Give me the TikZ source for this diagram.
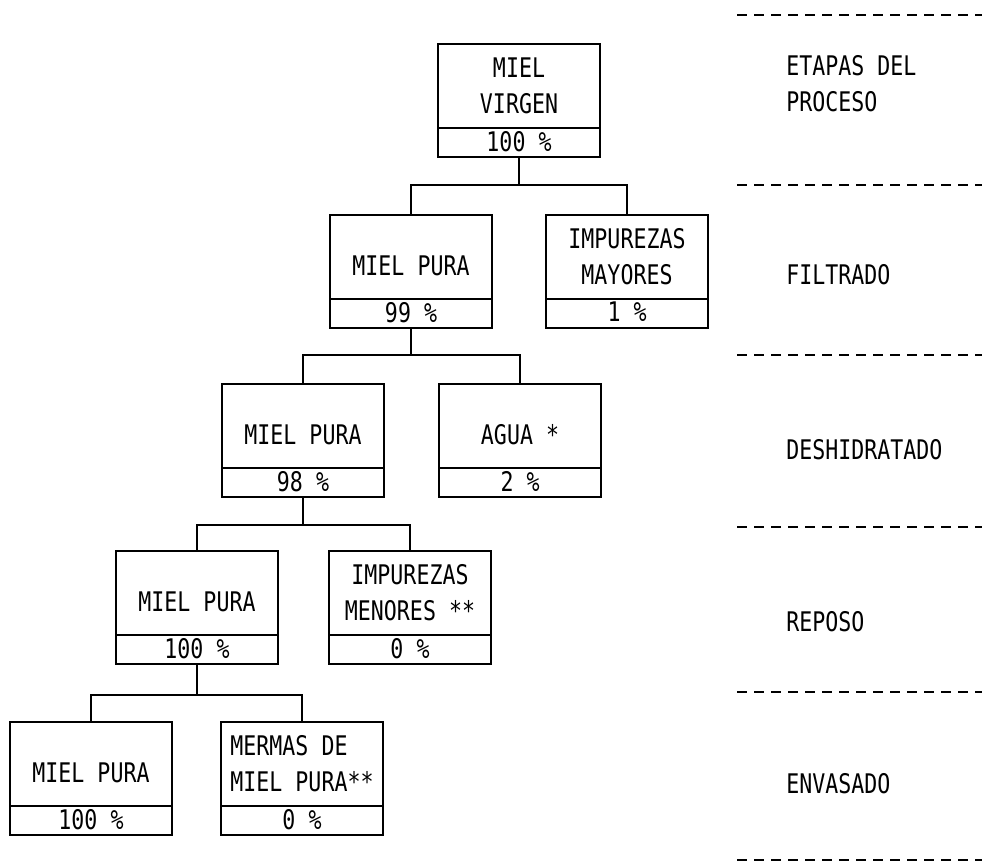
\documentclass[tikz,border=0pt]{standalone}
\usepackage{fontspec}
\newfontfamily\maquina[FakeStretch=0.8]{DejaVu Sans Mono}
\usetikzlibrary{positioning}

\begin{document}
\begin{tikzpicture}[x=1pt,y=-1pt,line width=2pt,
  every node/.style={font=\maquina\fontsize{27}{36}\selectfont},
  etapa/.style={draw,minimum width=162pt,minimum height=84pt,inner sep=0pt,outer sep=0pt,align=center,anchor=north},
  uno/.style={text height=38pt},
  pct/.style={draw,minimum width=162pt,minimum height=29pt,inner sep=0pt,outer sep=0pt,text depth=3pt},
  sep/.style={dash pattern=on 10pt off 7pt,line width=2.4pt}]
\useasboundingbox (0,0) rectangle (982,862);

% arbol de balance
\node[etapa] (virgen) at (519,44) {MIEL\\VIRGEN};
\node[pct,below=0pt of virgen] (virgenP) {100 \%};
\node[etapa,uno] (pura1) at (411,215) {MIEL PURA};
\node[pct,below=0pt of pura1] (pura1P) {99 \%};
\node[etapa] (mayores) at (627,215) {IMPUREZAS\\MAYORES};
\node[pct,below=0pt of mayores] (mayoresP) {1 \%};
\node[etapa,uno] (pura2) at (303,384) {MIEL PURA};
\node[pct,below=0pt of pura2] (pura2P) {98 \%};
\node[etapa,uno] (agua) at (520,384) {AGUA *};
\node[pct,below=0pt of agua] (aguaP) {2 \%};
\node[etapa,uno] (pura3) at (197,551) {MIEL PURA};
\node[pct,below=0pt of pura3] (pura3P) {100 \%};
\node[etapa] (menores) at (410,551) {IMPUREZAS\\MENORES **};
\node[pct,below=0pt of menores] (menoresP) {0 \%};
\node[etapa,uno] (pura4) at (91,722) {MIEL PURA};
\node[pct,below=0pt of pura4] (pura4P) {100 \%};
\node[etapa,align=left] (mermas) at (302,722) {MERMAS DE\\MIEL PURA**};
\node[pct,below=0pt of mermas] (mermasP) {0 \%};

\coordinate (j1) at (519,185);
\coordinate (j2) at (411,355);
\coordinate (j3) at (303,525);
\coordinate (j4) at (197,695);
\draw (virgenP.south) -- (j1);
\draw (pura1.north) |- (j1) -| (mayores.north);
\draw (pura1P.south) -- (j2);
\draw (pura2.north) |- (j2) -| (agua.north);
\draw (pura2P.south) -- (j3);
\draw (pura3.north) |- (j3) -| (menores.north);
\draw (pura3P.south) -- (j4);
\draw (pura4.north) |- (j4) -| (mermas.north);

% etapas
\node[anchor=west,align=left] (etapas) at (782,84) {ETAPAS DEL\\PROCESO};
\node[anchor=west] (filtrado) at (782,275) {FILTRADO};
\node[anchor=west] (deshidratado) at (782,450) {DESHIDRATADO};
\node[anchor=west] (reposo) at (782,622) {REPOSO};
\node[anchor=west] (envasado) at (782,784) {ENVASADO};
\draw[sep] (737,15) -- (982,15) (737,185) -- (982,185) (737,355) -- (982,355)
  (737,527) -- (982,527) (737,692) -- (982,692) (737,860) -- (982,860);
\end{tikzpicture}
\end{document}
